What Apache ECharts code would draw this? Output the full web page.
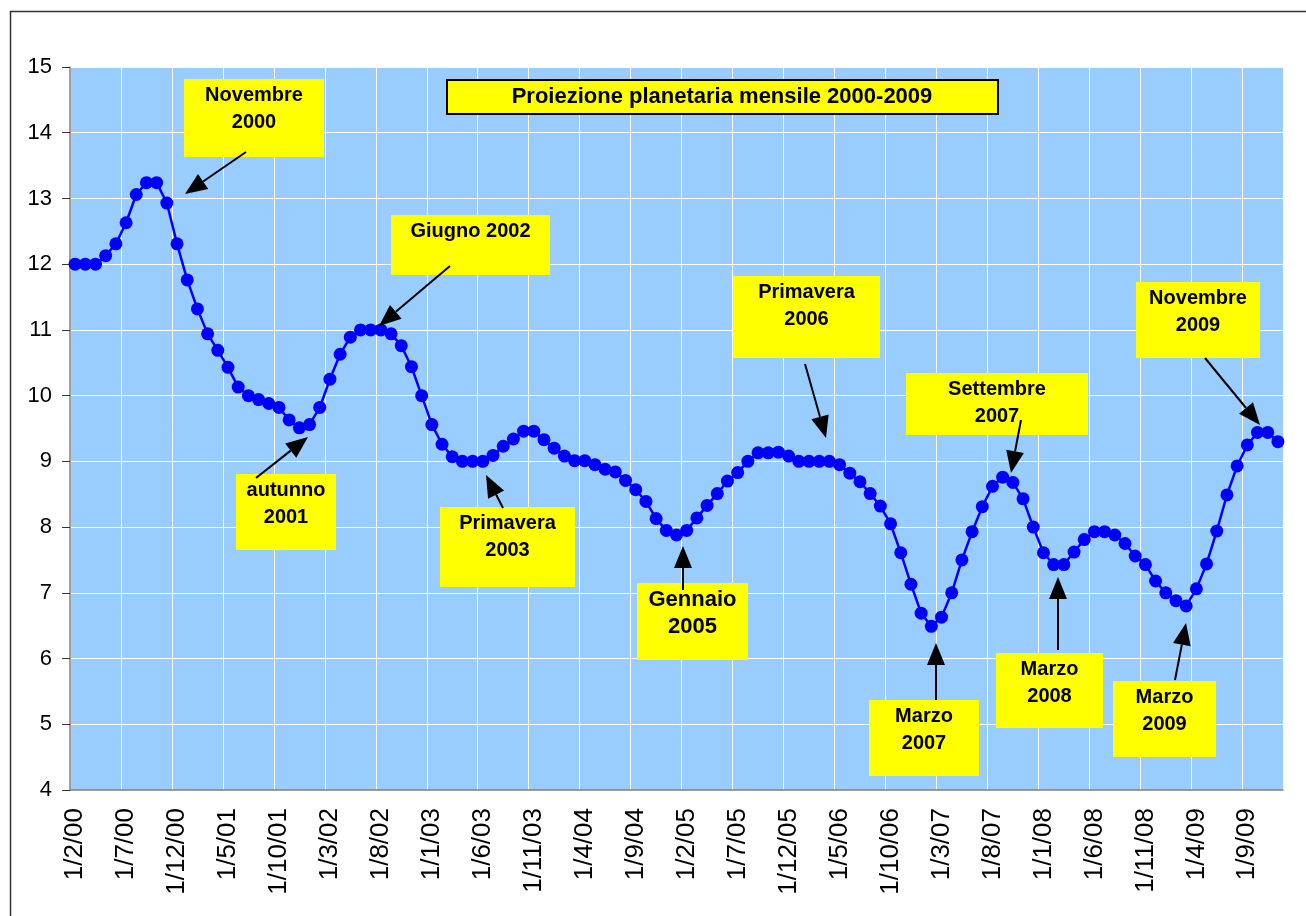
<!DOCTYPE html>
<html>
<head>
<meta charset="utf-8">
<title>Proiezione planetaria mensile 2000-2009</title>
<script src="https://cdn.jsdelivr.net/npm/echarts@6/dist/echarts.min.js"></script>
<style>
	html,body{margin:0;padding:0;background:#fff;}
	#grafico{width:1306px;height:916px;}
</style>
</head>
<body>
<div id="grafico"></div>
<script>
// mesi: dal 1/2/00 al 1/12/09 (etichette g/m/aa)
var anno0 = 2000, mese0 = 2, nMesi = 119;
var mesi = [];
for (var k = 0; k < nMesi; k++) {
	var m = (mese0 - 1 + k) % 12 + 1;
	var a = anno0 + Math.floor((mese0 - 1 + k) / 12);
	mesi.push('1/' + m + '/' + String(a % 100).padStart(2, '0'));
}

// valori mensili
var valori = [
	12.0, 12.0, 12.0, 12.13, 12.31, 12.63, 13.06, 13.24, 13.24, 12.93,
	12.31, 11.76, 11.32, 10.94, 10.69, 10.43, 10.13, 10.0, 9.94, 9.88,
	9.82, 9.63, 9.51, 9.56, 9.82, 10.25, 10.63, 10.89, 11.0, 11.0,
	11.0, 10.94, 10.76, 10.44, 10.0, 9.56, 9.26, 9.07, 9.0, 9.0,
	9.0, 9.09, 9.23, 9.34, 9.46, 9.46, 9.33, 9.2, 9.08, 9.01,
	9.01, 8.95, 8.88, 8.84, 8.71, 8.57, 8.39, 8.13, 7.95, 7.88,
	7.95, 8.14, 8.33, 8.51, 8.7, 8.83, 9.0, 9.13, 9.13, 9.14,
	9.08, 9.0, 9.0, 9.0, 9.0, 8.95, 8.82, 8.69, 8.51, 8.32,
	8.05, 7.61, 7.13, 6.69, 6.49, 6.63, 7.0, 7.5, 7.93, 8.31,
	8.62, 8.76, 8.68, 8.43, 8.0, 7.61, 7.43, 7.43, 7.62, 7.81,
	7.93, 7.93, 7.88, 7.75, 7.56, 7.43, 7.18, 7.0, 6.88, 6.8,
	7.06, 7.44, 7.94, 8.49, 8.93, 9.25, 9.44, 9.44, 9.3
];

var titolo = 'Proiezione planetaria mensile 2000-2009';

// note gialle: testo, riquadro [x, y, w, h], freccia [coda x, coda y, punta x, punta y]
var note = [
	{t: 'Novembre\n2000',   box: [184, 79, 140, 78],  fr: [246, 152, 185, 194]},
	{t: 'Giugno 2002',      box: [391, 215, 159, 60], fr: [450, 266, 379, 326]},
	{t: 'autunno\n2001',    box: [236, 474, 100, 76], fr: [256, 478, 308, 437]},
	{t: 'Primavera\n2003',  box: [440, 507, 135, 80], fr: [503, 508, 486, 475]},
	{t: 'Gennaio\n2005',    box: [637, 583, 111, 77], fr: [683, 590, 683, 546], big: true},
	{t: 'Primavera\n2006',  box: [733, 276, 147, 82], fr: [805, 364, 826, 438]},
	{t: 'Settembre\n2007',  box: [906, 373, 182, 62], fr: [1021, 420, 1011, 473]},
	{t: 'Marzo\n2007',      box: [869, 700, 110, 76], fr: [936, 700, 936, 643]},
	{t: 'Marzo\n2008',      box: [996, 653, 107, 75], fr: [1058, 650, 1058, 577]},
	{t: 'Marzo\n2009',      box: [1113, 681, 103, 76], fr: [1175, 680, 1186, 623]},
	{t: 'Novembre\n2009',   box: [1136, 282, 124, 76], fr: [1205, 358, 1260, 425]}
];

function freccia(x1, y1, x2, y2) {
	var dx = x2 - x1, dy = y2 - y1;
	var len = Math.sqrt(dx * dx + dy * dy);
	var ux = dx / len, uy = dy / len;
	var hl = 22, hw = 9;
	var bx = x2 - ux * hl, by = y2 - uy * hl;
	return [
		{type: 'line', z: 30, shape: {x1: x1, y1: y1, x2: bx, y2: by}, style: {stroke: '#000', lineWidth: 2}},
		{type: 'polygon', z: 30, shape: {points: [[x2, y2], [bx - uy * hw, by + ux * hw], [bx + uy * hw, by - ux * hw]]}, style: {fill: '#000'}}
	];
}

var grafica = [];
grafica.push({type: 'rect', z: 1, silent: true, shape: {x: 10.5, y: 11.5, width: 1320, height: 930},
	style: {fill: null, stroke: '#333', lineWidth: 1.5}});
grafica.push({type: 'rect', z: 20, shape: {x: 447, y: 80, width: 551, height: 34},
	style: {fill: '#FFFF00', stroke: '#000', lineWidth: 2}});
grafica.push({type: 'text', z: 21, x: 722, y: 97, style: {text: titolo, fill: '#000',
	font: 'bold 22px "Liberation Sans", Arial, sans-serif', align: 'center', verticalAlign: 'middle'}});
note.forEach(function (n) {
	grafica.push({type: 'rect', z: 20, shape: {x: n.box[0], y: n.box[1], width: n.box[2], height: n.box[3]},
		style: {fill: '#FFFF00'}});
	grafica.push({type: 'text', z: 21, x: n.box[0] + n.box[2] / 2, y: n.box[1] + 3,
		style: {text: n.t, fill: '#000', lineHeight: 27, align: 'center', verticalAlign: 'top',
			font: 'bold ' + (n.big ? 22 : 20) + 'px "Liberation Sans", Arial, sans-serif'}});
	grafica = grafica.concat(freccia(n.fr[0], n.fr[1], n.fr[2], n.fr[3]));
});

var option = {
	animation: false,
	backgroundColor: '#fff',
	grid: {left: 70, right: 23, top: 67, bottom: 126, show: true, backgroundColor: '#99CCFF', borderWidth: 0},
	xAxis: {
		type: 'category',
		data: mesi,
		boundaryGap: true,
		axisLine: {lineStyle: {color: '#808080', width: 1.5}},
		axisTick: {interval: 4, length: 8, lineStyle: {color: '#333'}},
		axisLabel: {interval: 4, rotate: 90, margin: 18, color: '#000', fontSize: 26,
			fontFamily: '"Liberation Sans", Arial, sans-serif'},
		splitLine: {show: true, interval: 4, lineStyle: {color: '#ffffff', width: 1}}
	},
	yAxis: {
		type: 'value',
		min: 4, max: 15, interval: 1,
		axisLine: {show: true, lineStyle: {color: '#808080', width: 1.5}},
		axisTick: {show: true, length: 8, lineStyle: {color: '#333'}},
		axisLabel: {margin: 18, color: '#000', fontSize: 22, fontFamily: '"Liberation Sans", Arial, sans-serif'},
		splitLine: {show: true, lineStyle: {color: '#ffffff', width: 1}}
	},
	series: [{
		name: titolo,
		type: 'line',
		data: valori,
		symbol: 'circle',
		symbolSize: 13,
		showAllSymbol: true,
		itemStyle: {color: '#0000FF'},
		lineStyle: {color: '#0000FF', width: 2.5},
		z: 5
	}],
	graphic: grafica
};

var myChart = echarts.init(document.getElementById('grafico'));
myChart.setOption(option);
</script>
</body>
</html>
